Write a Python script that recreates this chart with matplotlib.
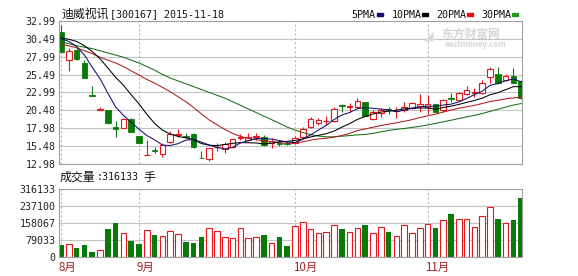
import matplotlib
matplotlib.use('Agg')
import matplotlib.pyplot as plt
from matplotlib.patches import Rectangle
import numpy as np

plt.rcParams['font.family'] = ['Noto Sans CJK SC', 'DejaVu Sans']

# daily candles, 2015-08-18 .. 2015-11-18
opens = [31.46, 27.52, 28.91, 27.06, 22.60, 20.60, 20.50, 18.20, 18.09, 19.30,
         16.93, 14.31, 14.95, 14.43, 16.05, 17.05, 16.90, 17.21, 13.85, 13.69,
         15.35, 15.08, 15.44, 16.70, 16.30, 16.80, 16.75, 15.95, 16.00, 15.90,
         15.92, 16.83, 18.23, 18.78, 18.95, 19.02, 21.20, 20.95, 21.01, 21.62,
         19.30, 20.10, 20.65, 20.40, 20.55, 20.87, 21.15, 21.00, 21.35, 20.55,
         22.25, 21.95, 22.78, 22.90, 22.88, 25.10, 25.52, 24.70, 25.29, 24.60]
highs = [32.39, 29.15, 29.23, 27.52, 23.90, 20.93, 20.60, 19.02, 19.48, 19.48,
         16.97, 16.30, 15.44, 15.90, 17.63, 17.87, 17.30, 17.30, 14.84, 15.30,
         15.90, 16.10, 16.70, 17.17, 17.30, 17.30, 17.00, 16.60, 16.30, 16.20,
         16.90, 18.20, 19.62, 19.50, 19.70, 20.90, 21.35, 21.49, 22.20, 21.70,
         20.60, 20.80, 20.90, 21.00, 21.60, 21.70, 22.74, 22.70, 21.45, 22.10,
         22.88, 23.10, 23.90, 23.60, 24.73, 26.58, 26.58, 25.60, 26.44, 24.73]
lows = [28.55, 25.98, 27.52, 24.97, 22.55, 20.60, 18.60, 16.83, 18.00, 17.50,
        15.90, 14.31, 14.52, 13.96, 15.90, 16.75, 16.70, 15.30, 13.82, 13.50,
        14.90, 14.60, 15.30, 16.38, 16.20, 16.40, 15.50, 15.30, 15.50, 15.60,
        15.80, 16.60, 18.10, 18.50, 18.46, 18.90, 20.32, 20.30, 20.90, 19.70,
        19.20, 19.60, 20.00, 19.40, 20.32, 20.70, 20.30, 20.00, 20.32, 20.30,
        21.70, 21.90, 22.70, 22.40, 22.80, 24.30, 24.20, 24.60, 24.30, 22.10]
closes = [28.59, 28.77, 27.61, 25.05, 22.55, 20.60, 18.70, 17.95, 19.26, 17.53,
          15.90, 14.31, 14.88, 15.68, 17.21, 17.17, 16.80, 15.36, 13.82, 15.22,
          15.45, 15.77, 16.47, 16.85, 16.85, 16.90, 15.65, 16.20, 15.85, 15.80,
          16.61, 17.87, 19.30, 19.16, 19.05, 20.65, 21.05, 21.10, 21.81, 19.76,
          20.23, 20.50, 20.50, 20.45, 21.00, 21.49, 21.45, 21.35, 20.32, 21.95,
          22.10, 22.96, 23.40, 23.05, 24.27, 26.20, 24.27, 25.30, 24.36, 22.20]
volumes = [57200, 61800, 44600, 57200, 26000, 33900, 130200, 160900, 111600, 77200,
           61800, 126900, 103600, 99000, 122300, 108300, 72500, 67900, 95800, 134800,
           122300, 93000, 88300, 134800, 88300, 93000, 103600, 67900, 95800, 52500,
           145500, 162700, 130200, 111600, 119000, 148800, 130200, 119000, 134800, 150200,
           111600, 142300, 117600, 97600, 150200, 111600, 134800, 154800, 134800, 173400,
           201300, 176700, 176700, 139500, 192000, 232500, 176700, 158100, 173400, 274300]

# moving average lines
ma5 = [30.5, 30.1, 29.4, 28.2, 26.51, 24.92, 22.90, 20.97, 19.81, 18.81,
       17.87, 16.99, 16.38, 15.66, 15.60, 15.85, 16.35, 16.44, 16.07, 15.67,
       15.33, 15.12, 15.35, 15.95, 16.28, 16.57, 16.54, 16.49, 16.29, 16.08,
       16.02, 16.47, 17.09, 17.75, 18.40, 19.21, 19.84, 20.20, 20.73, 20.87,
       20.79, 20.68, 20.56, 20.29, 20.54, 20.79, 20.98, 21.08, 21.05, 21.24,
       21.36, 21.67, 22.15, 22.69, 23.16, 23.98, 24.24, 24.62, 24.88, 24.47]
ma10 = [30.6, 30.4, 30.1, 29.5, 28.7, 27.7, 26.4, 25.1, 24.0, 22.66,
        21.39, 19.95, 18.67, 17.74, 17.20, 16.86, 16.67, 16.41, 15.87, 15.64,
        15.59, 15.74, 15.90, 16.01, 15.98, 15.95, 15.83, 15.92, 16.12, 16.18,
        16.30, 16.51, 16.79, 17.02, 17.24, 17.61, 18.15, 18.64, 19.24, 19.64,
        20.00, 20.26, 20.38, 20.51, 20.71, 20.79, 20.83, 20.82, 20.67, 20.89,
        21.08, 21.32, 21.61, 21.87, 22.20, 22.67, 22.95, 23.38, 23.79, 23.81]
ma20 = [29.7, 29.5, 29.2, 28.8, 28.4, 27.9, 27.5, 27.1, 26.6, 26.0,
        25.4, 24.8, 24.3, 23.7, 23.1, 22.4, 21.7, 20.9, 20.0, 19.15,
        18.49, 17.84, 17.28, 16.87, 16.59, 16.40, 16.25, 16.16, 15.99, 15.91,
        15.94, 16.12, 16.34, 16.52, 16.61, 16.78, 16.99, 17.28, 17.68, 17.91,
        18.15, 18.38, 18.58, 18.76, 18.97, 19.20, 19.49, 19.73, 19.96, 20.26,
        20.54, 20.79, 21.00, 21.19, 21.45, 21.73, 21.89, 22.10, 22.23, 22.35]
ma30 = [30.0, 29.8, 29.5, 29.3, 29.1, 28.8, 28.5, 28.2, 27.9, 27.5,
        27.1, 26.6, 26.1, 25.5, 25.0, 24.6, 24.2, 23.8, 23.4, 23.0,
        22.6, 22.2, 21.7, 21.2, 20.7, 20.2, 19.7, 19.2, 18.7, 18.16,
        17.76, 17.40, 17.12, 16.92, 16.81, 16.81, 16.89, 16.99, 17.08, 17.15,
        17.29, 17.50, 17.69, 17.85, 17.97, 18.12, 18.27, 18.46, 18.68, 18.90,
        19.12, 19.36, 19.59, 19.80, 20.05, 20.36, 20.65, 20.95, 21.23, 21.45]

price_ticks = [12.98, 15.48, 17.98, 20.48, 22.99, 25.49, 27.99, 30.49, 32.99]
vol_ticks = [0, 79033, 158067, 237100, 316133]
month_start = [0, 10, 30, 47]
month_names = ['8月', '9月', '10月', '11月']

RED = '#e8141e'
GREEN = '#087a08'
GRID = '#c4c4c4'
EDGE = '#a0a0a0'
MONO = 'DejaVu Sans Mono'

W, H = 578, 276
fig = plt.figure(figsize=(W / 100, H / 100), dpi=100)
ax = fig.add_axes([59 / W, 1 - 164.3 / H, 463 / W, 143.6 / H])
axv = fig.add_axes([59 / W, 1 - 257.3 / H, 463 / W, 68 / H])

n = len(closes)
bw = 0.7
for i in range(n):
    o, h, l, c = opens[i], highs[i], lows[i], closes[i]
    if c >= o:
        ax.vlines(i, c, h, color=RED, lw=0.8, zorder=2)
        ax.vlines(i, l, o, color=RED, lw=0.8, zorder=2)
        ax.bar(i, max(c - o, 0.03), bottom=o, width=bw, facecolor='white',
               edgecolor=RED, lw=0.8, zorder=2)
        axv.bar(i, volumes[i], width=bw, facecolor='white', edgecolor=RED,
                lw=0.8, zorder=2)
    else:
        ax.vlines(i, l, h, color=GREEN, lw=0.8, zorder=2)
        ax.bar(i, max(o - c, 0.03), bottom=c, width=bw, color=GREEN,
               edgecolor=GREEN, lw=0.6, zorder=2)
        axv.bar(i, volumes[i], width=bw, color=GREEN, zorder=2)

xs = np.arange(n)
ax.plot(xs, ma30, color='#1a6e1a', lw=0.75, zorder=3)
ax.plot(xs, ma20, color='#b01c1c', lw=0.75, zorder=3)
ax.plot(xs, ma10, color='black', lw=0.75, zorder=3)
ax.plot(xs, ma5, color='#10106e', lw=0.75, zorder=3)

for a, ticks, labels, lim in [
        (ax, price_ticks, ['%.2f' % t for t in price_ticks], (12.98, 32.99)),
        (axv, vol_ticks, [str(t) for t in vol_ticks], (0, 316133))]:
    a.set_xlim(-0.26, 59.1)
    a.set_ylim(*lim)
    a.set_yticks(ticks)
    a.set_yticklabels(labels, family=MONO, fontsize=7.2, color='#222222')
    a.set_xticks([])
    a.tick_params(axis='y', length=0, pad=2.6)
    a.yaxis.grid(True, color=GRID, lw=0.8)
    a.set_axisbelow(True)
    for m in month_start:
        a.axvline(m, color='#b8b8b8', lw=0.8, ls=(0, (2, 2)), zorder=1)
    for s in a.spines.values():
        s.set_color(EDGE)
        s.set_linewidth(0.8)

for m, name in zip(month_start, month_names):
    axv.text(m - 0.3, -0.15, name, transform=axv.get_xaxis_transform(),
             ha='left', va='center', fontsize=8.3, color='#a82020')

# titles
fig.text(62 / W, 1 - 14.3 / H, '迪威视讯', fontsize=8.6, va='center', color='#111111')
fig.text(110 / W, 1 - 14.3 / H, '[300167] 2015-11-18', family=MONO, fontsize=7.2,
         va='center', color='#111111')
fig.text(60 / W, 1 - 177.5 / H, '成交量', fontsize=8.6, va='center', color='#111111')
fig.text(97 / W, 1 - 177.5 / H, ':316133', family=MONO, fontsize=7.2,
         va='center', color='#111111')
fig.text(143 / W, 1 - 177.5 / H, '手', fontsize=8.6, va='center', color='#111111')

# legend
legend = [('5PMA', 351.7, '#10106e'), ('10PMA', 391.7, 'black'),
          ('20PMA', 436.7, '#e01010'), ('30PMA', 481.7, '#1e9a1e')]
for label, x0, col in legend:
    fig.text(x0 / W, 1 - 14.5 / H, label, family=MONO, fontsize=7.2,
             va='center', color='#111111')
    x1 = x0 + 5.85 * len(label) + 1.5
    fig.add_artist(Rectangle((x1 / W, 1 - 16 / H), 6 / W, 3 / H,
                             transform=fig.transFigure, color=col))

# watermark
fig.text(441 / W, 1 - 34.5 / H, '东方财富网', fontsize=8.5, fontweight='bold',
         va='center', color='#d6d6d6')
fig.text(445 / W, 1 - 44.5 / H, 'eastmoney.com', fontsize=5.6, fontweight='bold',
         va='center', color='#d6d6d6')
fig.text(424 / W, 1 - 36 / H, '◢', fontsize=9, va='center', color='#dadada',
         family=['DejaVu Sans'])

fig.savefig('out.png', dpi=100, facecolor='white')
